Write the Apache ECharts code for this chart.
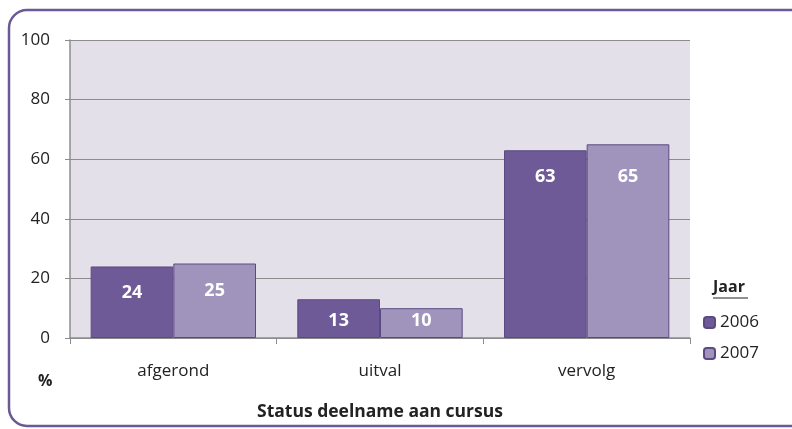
<!DOCTYPE html>
<html>
<head>
<meta charset="utf-8">
<script src="https://cdn.jsdelivr.net/npm/echarts@6/dist/echarts.min.js"></script>
<style>
html, body { margin: 0; padding: 0; background: #fff; }
#main { width: 792px; height: 429px; }
</style>
</head>
<body>
<div id="main"></div>
<script>
var categories = ['afgerond', 'uitval', 'vervolg'];
var years = ['2006', '2007'];
var values2006 = [24, 13, 63];
var values2007 = [25, 10, 65];
var yTicks = [0, 20, 40, 60, 80, 100];

// how far each value label sits below its bar top (as in the original)
var labelGap2006 = [17, 13, 18];
var labelGap2007 = [18, 4, 24];

var myChart = echarts.init(document.getElementById('main'));
var font = '"Open Sans"';

function barSeries(name, values, gaps, color) {
    return {
        name: name,
        type: 'bar',
        data: values.map(function (v, i) {
            return { value: v, label: { distance: gaps[i] } };
        }),
        barGap: '0%',
        barCategoryGap: '20%',
        itemStyle: {
            color: color,
            borderColor: '#5b4a82',
            borderWidth: 1
        },
        label: {
            show: true,
            position: 'insideTop',
            color: '#ffffff',
            fontFamily: font,
            fontWeight: 'bold',
            fontSize: 18
        }
    };
}

var option = {
    animation: false,
    grid: { left: 70, right: 102, top: 40, bottom: 91, show: true, backgroundColor: '#e3e0e9', borderWidth: 0 },
    xAxis: {
        type: 'category',
        data: categories,
        axisLine: { lineStyle: { color: '#8c8c8c', width: 1.5 } },
        axisTick: { show: true, length: 6, lineStyle: { color: '#8c8c8c' } },
        axisLabel: { color: '#222', fontFamily: font, fontSize: 17, margin: 25 },
        name: 'Status deelname aan cursus',
        nameLocation: 'middle',
        nameGap: 65,
        nameTextStyle: { color: '#222', fontFamily: font, fontWeight: 'bold', fontSize: 17.5 }
    },
    yAxis: {
        type: 'value',
        min: yTicks[0],
        max: yTicks[yTicks.length - 1],
        interval: 20,
        axisLine: { show: true, lineStyle: { color: '#8c8c8c', width: 1.5 } },
        axisTick: { show: true, length: 5, lineStyle: { color: '#8c8c8c' } },
        axisLabel: { color: '#222', fontFamily: font, fontSize: 17, margin: 20 },
        splitLine: { lineStyle: { color: '#8c8c8c', width: 1 } }
    },
    legend: {
        data: years,
        orient: 'vertical',
        left: 698,
        top: 309,
        itemWidth: 11,
        itemHeight: 11,
        itemGap: 14,
        textStyle: { color: '#222', fontFamily: font, fontSize: 17, lineHeight: 17 }
    },
    graphic: [
        {
            type: 'rect',
            shape: { x: 9, y: 10, width: 800, height: 416, r: 18 },
            style: { fill: 'none', stroke: '#6b5a94', lineWidth: 2.5 },
            silent: true
        },
        {
            type: 'text',
            left: 38,
            top: 373,
            style: { text: '%', fill: '#222', font: 'bold 16px ' + font }
        },
        {
            type: 'text',
            left: 713,
            top: 279,
            style: { text: 'Jaar', fill: '#222', font: 'bold 16px ' + font }
        },
        {
            type: 'line',
            shape: { x1: 713, y1: 298, x2: 748, y2: 298 },
            style: { stroke: '#222', lineWidth: 1.2 }
        }
    ],
    series: [
        barSeries(years[0], values2006, labelGap2006, '#6e5a96'),
        barSeries(years[1], values2007, labelGap2007, '#a094bc')
    ]
};
myChart.setOption(option);
</script>
</body>
</html>
